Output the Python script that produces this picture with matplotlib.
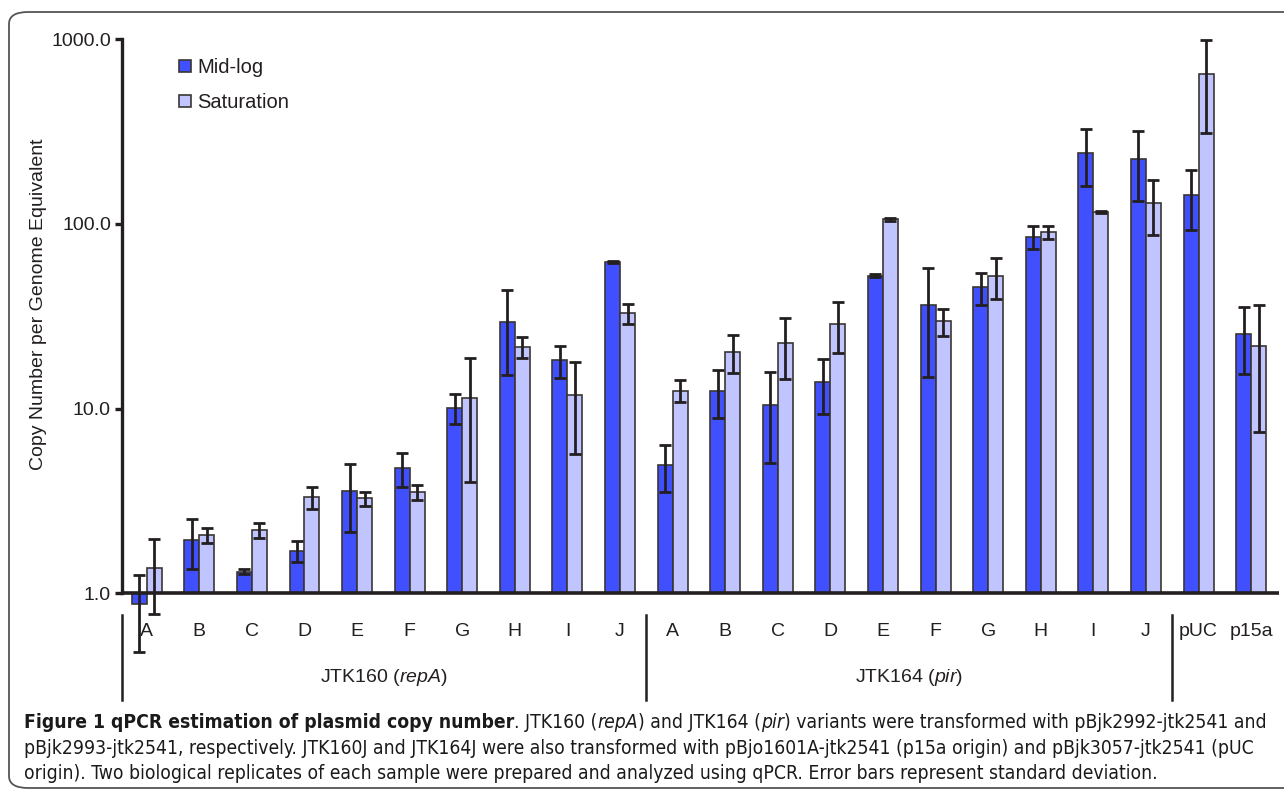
import numpy as np
import matplotlib
matplotlib.use("Agg")
import matplotlib.pyplot as plt
from matplotlib.patches import Patch, FancyBboxPatch
from matplotlib.lines import Line2D
from matplotlib import transforms, font_manager

#%% data
categorias = ['A', 'B', 'C', 'D', 'E', 'F', 'G', 'H', 'I', 'J',
              'A', 'B', 'C', 'D', 'E', 'F', 'G', 'H', 'I', 'J',
              'pUC', 'p15a']
midlog = [0.87, 1.94, 1.31, 1.70, 3.57, 4.75, 10.1, 29.4, 18.3, 61.9,
          4.96, 12.5, 10.4, 13.9, 52.4, 36.4, 45.4, 85.1, 243, 224,
          144, 25.3]
midlog_sd = [0.39, 0.59, 0.04, 0.23, 1.41, 0.97, 1.9, 14.2, 3.6, 0.8,
             1.42, 3.6, 5.3, 4.55, 0.8, 21.5, 9.0, 12.4, 82, 92,
             52, 10.0]
saturation = [1.37, 2.07, 2.19, 3.32, 3.26, 3.52, 11.4, 21.5, 11.8, 32.7,
              12.5, 20.3, 22.6, 28.8, 106, 29.7, 52.2, 90.1, 116, 129,
              648, 21.9]
saturation_sd = [0.6, 0.19, 0.21, 0.45, 0.28, 0.34, 7.4, 2.75, 6.1, 4.0,
                 1.7, 4.7, 8.2, 8.9, 2.0, 5.0, 12.8, 7.3, 1.0, 42.5,
                 338, 14.4]
yticks = [1, 10, 100, 1000]
ytick_labels = ['1.0', '10.0', '100.0', '1000.0']
grupos = ['JTK160 ($\\mathit{repA}$)', 'JTK164 ($\\mathit{pir}$)']

#%% style
plt.rcParams['font.family'] = 'Liberation Sans'
plt.rcParams['mathtext.fontset'] = 'custom'
plt.rcParams['mathtext.rm'] = 'Liberation Sans'
plt.rcParams['mathtext.it'] = 'Liberation Sans:italic'
plt.rcParams['mathtext.bf'] = 'Liberation Sans:bold'

oscuro = '#231f20'
azul = '#4050ff'
lila = '#c0c4ff'
borde = '#3a3632'

nombres = {f.name for f in font_manager.fontManager.ttflist}
fuente_caption = 'Liberation Sans Narrow' if 'Liberation Sans Narrow' in nombres else 'DejaVu Sans'

W, H = 1284, 795
fig = plt.figure(figsize=(W / 100, H / 100), dpi=100)

# axes: y=1000 at px 39, bottom of axes at px 660, x from 122 to 1279
top_px, bot_px, uno_px = 39, 660, 593.3
ax = fig.add_axes([122 / W, 1 - bot_px / H, (1279 - 122) / W, (bot_px - top_px) / H])
ax.set_yscale('log')
dec = (uno_px - top_px) / 3
ax.set_ylim(10 ** (-(bot_px - uno_px) / dec), 1000)
ax.set_xlim(-0.47, 21.53)

x = np.arange(len(categorias))
w = 0.285
ax.bar(x - w / 2, np.array(midlog) - 1, bottom=1, width=w, color=azul,
       edgecolor=borde, linewidth=1.2, zorder=2)
ax.bar(x + w / 2, np.array(saturation) - 1, bottom=1, width=w, color=lila,
       edgecolor=borde, linewidth=1.2, zorder=2)
ax.errorbar(x - w / 2, midlog, yerr=midlog_sd, fmt='none', ecolor=oscuro,
            elinewidth=2, capsize=4, capthick=2, zorder=4)
ax.errorbar(x + w / 2, saturation, yerr=saturation_sd, fmt='none', ecolor=oscuro,
            elinewidth=2, capsize=4, capthick=2, zorder=4)

# x axis line crosses at 1.0
ax.axhline(1, color=oscuro, lw=2.6, zorder=3)

for s in ['top', 'right', 'bottom']:
    ax.spines[s].set_visible(False)
ax.spines['left'].set_color(oscuro)
ax.spines['left'].set_linewidth(2.4)
ax.spines['left'].set_bounds(1, 1000)
ax.set_yticks(yticks)
ax.set_yticklabels(ytick_labels)
ax.yaxis.set_minor_locator(matplotlib.ticker.NullLocator())
ax.tick_params(axis='y', which='major', direction='out', length=5, width=2.4,
               color=oscuro, labelsize=14, labelcolor=oscuro, pad=3)
ax.set_xticks([])
ax.set_ylabel('Copy Number per Genome Equivalent', fontsize=14, color=oscuro)
ax.yaxis.set_label_coords(-0.065, 0.573)

# category labels, group labels and dividers under the axis
trans = transforms.blended_transform_factory(ax.transData, fig.transFigure)
for xi, c in zip(x, categorias):
    ax.text(xi, 1 - 632 / H, c, transform=trans, ha='center', va='center',
            fontsize=14, color=oscuro)
for xd in [-0.47, 9.5, 19.5]:
    fig.add_artist(Line2D([xd, xd], [1 - 615 / H, 1 - 700 / H], transform=trans,
                          color=oscuro, lw=1.8))
for xc, g in zip([4.5, 14.5], grupos):
    ax.text(xc, 1 - 677 / H, g, transform=trans, ha='center', va='center',
            fontsize=14, color=oscuro)

# legend
manejadores = [Patch(facecolor=azul, edgecolor=borde, lw=1.2),
               Patch(facecolor=lila, edgecolor=borde, lw=1.2)]
fig.legend(manejadores, ['Mid-log', 'Saturation'], loc='upper left',
           bbox_to_anchor=(179 / W, 1 - 58 / H), frameon=False, fontsize=14.5,
           handlelength=0.6, handleheight=0.6, handletextpad=0.3,
           labelspacing=0.8, borderpad=0, borderaxespad=0, labelcolor=oscuro)

# frame around figure + caption
fig.add_artist(FancyBboxPatch((9 / W, 1 - 788 / H), (1320 - 9) / W, (788 - 12) / H,
                              boxstyle='round,pad=0,rounding_size=0.015',
                              transform=fig.transFigure, facecolor='none',
                              edgecolor='#555555', lw=1.3))

def poner_texto(x0, y0, partes, size):
    r = fig.canvas.get_renderer()
    xp = x0
    textos = []
    for s, peso, estilo in partes:
        t = fig.text(xp / W, 1 - y0 / H, s, fontsize=size, family=fuente_caption,
                     fontstretch='condensed', weight=peso, style=estilo,
                     color='#1a1a1a', va='baseline')
        xp += t.get_window_extent(r).width
        textos.append(t)
    return xp, textos

lineas = [
    [('Figure 1 qPCR estimation of plasmid copy number', 'bold', 'normal'),
     ('. JTK160 (', 'normal', 'normal'), ('repA', 'normal', 'italic'),
     (') and JTK164 (', 'normal', 'normal'), ('pir', 'normal', 'italic'),
     (') variants were transformed with pBjk2992-jtk2541 and', 'normal', 'normal')],
    [('pBjk2993-jtk2541, respectively. JTK160J and JTK164J were also transformed with '
      'pBjo1601A-jtk2541 (p15a origin) and pBjk3057-jtk2541 (pUC', 'normal', 'normal')],
    [('origin). Two biological replicates of each sample were prepared and analyzed '
      'using qPCR. Error bars represent standard deviation.', 'normal', 'normal')],
]
# size the caption so the first line runs to the right edge like the original
fin, prueba = poner_texto(24, 728, lineas[0], 12)
for t in prueba:
    t.remove()
tam = 12 * (1262 - 24) / (fin - 24)
for yb, partes in zip([728, 754, 779], lineas):
    poner_texto(24, yb, partes, tam)

fig.savefig('out.png', dpi=100)
